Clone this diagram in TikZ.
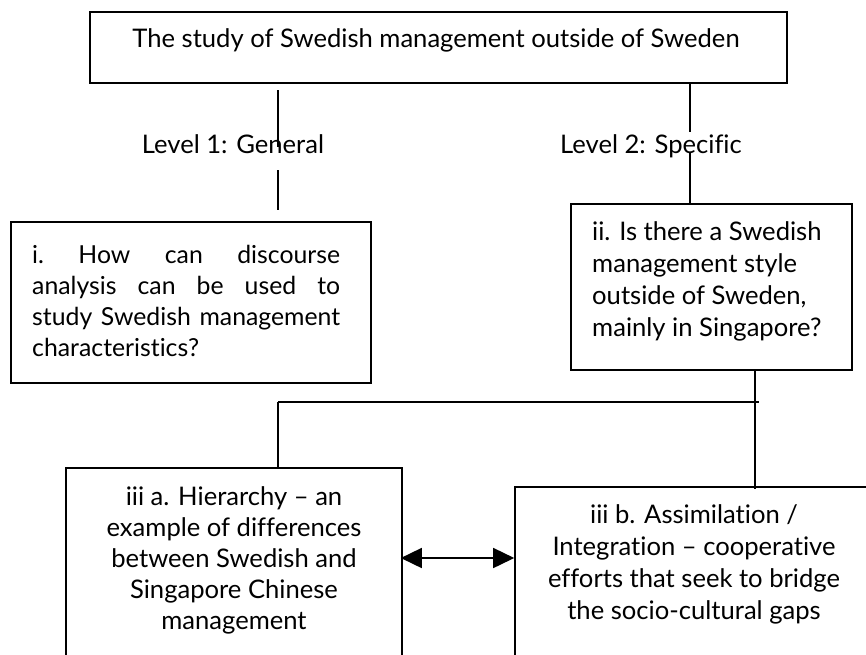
\documentclass[tikz,border=0pt]{standalone}
\usepackage{fontspec}
\setmainfont[Ligatures={TeX,NoCommon}]{Lato}
\usetikzlibrary{arrows.meta}

\tikzset{
  boxed/.style={draw, line width=1.6pt, inner sep=0pt},
  link/.style={line width=1.6pt},
  label/.style={inner sep=0pt, font=\fontsize{25.6}{31}\selectfont},
  both/.style={link, {Triangle[length=21pt,width=20pt]}-{Triangle[length=21pt,width=20pt]}}
}
\newcommand{\fullline}[1]{\leavevmode\hbox to 308pt{#1}}

\begin{document}
\begin{tikzpicture}[x=1pt, y=-1pt]
  \useasboundingbox (0,0) rectangle (866,654);
  \begin{scope}
  \clip (0,0) rectangle (866,654);

  % boxes
  \node[boxed, minimum width=697pt, minimum height=71pt] (top) at (438.5,47.5) {};
  \node[boxed, minimum width=360pt, minimum height=161pt] (qi) at (191,302.5) {};
  \node[boxed, minimum width=281pt, minimum height=166pt] (qii) at (711.5,287) {};
  \node[boxed, minimum width=336pt, minimum height=200pt] (qiiia) at (234,568) {};
  \node[boxed, minimum width=370pt, minimum height=180pt] (qiiib) at (700,577) {};

  % texts
  \node[label] (ttop) at (436,40) {The study of Swedish management outside of Sweden};
  \node[label] (lev1) at (233,144) {Level 1: General};
  \node[label] (lev2) at (651,146) {Level 2: Specific};
  \node[label, anchor=north west, text width=308pt, align=left,
        font=\fontsize{24.8}{31}\selectfont] (ti) at (32,245)
    {\fullline{i.\ \hfill How\ \hfill can\ \hfill discourse}\\
     \fullline{analysis\ \hfill can\ \hfill be\ \hfill used\ \hfill to}\\
     \fullline{study\ \hfill Swedish\ \hfill management}\\
     characteristics?};
  \node[label, anchor=north west, align=left, font=\fontsize{25.6}{32}\selectfont] (tii) at (592,221)
    {ii. Is there a Swedish\\ management style\\ outside of Sweden,\\ mainly in Singapore?};
  \node[label, anchor=north, align=center] (tiiia) at (234,486)
    {iii a. Hierarchy – an\\ example of differences\\ between Swedish and\\ Singapore Chinese\\ management};
  \node[label, anchor=north, align=center, font=\fontsize{25.6}{32}\selectfont] (tiiib) at (694,504)
    {iii b. Assimilation /\\ Integration – cooperative\\ efforts that seek to bridge\\ the socio-cultural gaps};

  % level 1 branch
  \coordinate (a1) at (278,90);
  \coordinate (a2) at (278,147);
  \coordinate (a3) at (278,170);
  \coordinate (a4) at (278,210);
  \draw[link] (a1) -- (a2);
  \draw[link] (a3) -- (a4);

  % level 2 branch
  \coordinate (b1) at (690,132);
  \coordinate (b2) at (690,153);
  \draw[link] (top.south -| b1) -- (b1);
  \draw[link] (b2) -- (qii.north -| b2);

  % from ii down to the two iii boxes
  \coordinate (c0) at (755,370);
  \coordinate (hl) at (278,402);
  \coordinate (hr) at (759,402);
  \draw[link] (qii.south -| c0) -- ([yshift=-3pt]qiiib.north -| c0);
  \draw[link] (hl) -- (hr);
  \draw[link] (hl) -- (qiiia.north -| hl);

  % two-way arrow between iii a and iii b
  \coordinate (m) at (0,558);
  \draw[both] ([xshift=-2pt]qiiia.east |- m) -- (qiiib.west |- m);
  \end{scope}
\end{tikzpicture}
\end{document}
